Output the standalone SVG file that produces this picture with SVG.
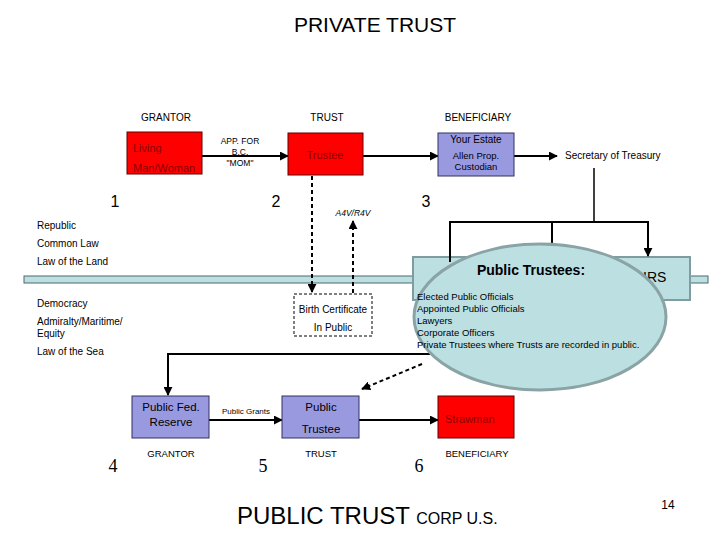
<svg xmlns="http://www.w3.org/2000/svg" width="720" height="540" viewBox="0 0 720 540">
<style>
text{font-family:"Liberation Sans",Arial,sans-serif;fill:#000}
.s9{font-size:9.5px}
.s10{font-size:10px}
.s11{font-size:11.5px}
.num{font-size:16px}
.numS{font-family:"Liberation Serif","Times New Roman",serif;font-size:18px}
.red{fill:#ff0000;stroke:#600000;stroke-width:1}
.blue{fill:#9999e0;stroke:#303060;stroke-width:1}
.rt{fill:#8b0000;font-size:11px}
.ln{stroke:#000;stroke-width:2;fill:none}
.thin{stroke:#000;stroke-width:1.5;fill:none}
.dash{stroke:#000;stroke-width:2;fill:none;stroke-dasharray:4,3}
.c{text-anchor:middle}
</style>
<defs>
<marker id="ah" viewBox="0 0 10 10" refX="9" refY="5" markerWidth="4.5" markerHeight="4.5" orient="auto" markerUnits="strokeWidth">
<path d="M0,0 L10,5 L0,10 z" fill="#000"/>
</marker>
</defs>
<rect width="720" height="540" fill="#fff"/>
<text x="375" y="32" class="c" style="font-size:21px">PRIVATE TRUST</text>
<text x="166" y="121" class="c s10">GRANTOR</text>
<text x="327" y="121" class="c s10">TRUST</text>
<text x="478" y="121" class="c s10">BENEFICIARY</text>
<text x="115" y="207" class="c num">1</text>
<text x="276" y="207" class="c num">2</text>
<text x="426" y="207" class="c num">3</text>
<g id="leftlabels" class="s10">
<text x="37" y="229">Republic</text>
<text x="37" y="247">Common Law</text>
<text x="37" y="265">Law of the Land</text>
<text x="37" y="307">Democracy</text>
<text x="37" y="325">Admiralty/Maritime/</text>
<text x="37" y="337">Equity</text>
<text x="37" y="355">Law of the Sea</text>
</g>
<g id="band"><rect x="24" y="276" width="684" height="7" fill="#bcdfe2" stroke="#506868" stroke-width="1"/></g>
<g id="irs">
<rect x="413" y="257" width="277" height="43" fill="#bcdfe2" stroke="#7f9c9e" stroke-width="2"/>
<text x="643" y="282" style="font-size:14px">IRS</text>
</g>
<g id="connectors">
<line x1="202" y1="156" x2="288" y2="156" class="ln" marker-end="url(#ah)"/>
<line x1="363" y1="156" x2="438" y2="156" class="ln" marker-end="url(#ah)"/>
<line x1="514" y1="156" x2="557" y2="156" class="ln" marker-end="url(#ah)"/>
<line x1="312" y1="176" x2="312" y2="292" class="dash" marker-end="url(#ah)"/>
<line x1="353" y1="293" x2="353" y2="221" class="dash" marker-end="url(#ah)"/>
<line x1="594" y1="168" x2="594" y2="222" class="thin"/>
<polyline points="450,262 450,222 648,222 648,256" class="ln" marker-end="url(#ah)"/>
<line x1="552" y1="222" x2="552" y2="250" class="ln"/>
<polyline points="430,354 168,354 168,395" class="ln" marker-end="url(#ah)"/>
<line x1="422" y1="364" x2="362" y2="389" class="dash" marker-end="url(#ah)"/>
<line x1="209" y1="420" x2="282" y2="420" class="ln" marker-end="url(#ah)"/>
<line x1="359" y1="420" x2="438" y2="420" class="ln" marker-end="url(#ah)"/>
</g>
<text x="240" y="144" class="c" style="font-size:8.5px">APP. FOR</text>
<text x="240" y="155" class="c" style="font-size:8.5px">B.C.</text>
<text x="240" y="166" class="c" style="font-size:8.5px">"MOM"</text>
<text x="353" y="216" class="c" style="font-size:8.5px;font-style:italic">A4V/R4V</text>
<text x="565" y="159" class="s10">Secretary of Treasury</text>
<text x="246" y="414" class="c" style="font-size:8px">Public Grants</text>
<g id="living">
<rect x="127" y="132" width="75" height="42" class="red"/>
<text x="133" y="152" class="rt">Living</text>
<text x="133" y="172" class="rt">Man/Woman</text>
</g>
<g id="trustee">
<rect x="288" y="133" width="75" height="42" class="red"/>
<text x="325" y="159" class="rt c">Trustee</text>
</g>
<g id="estate">
<rect x="438" y="133" width="76" height="43" class="blue"/>
<text x="476" y="143" class="c" style="font-size:10px">Your Estate</text>
<text x="476" y="159" class="c" style="font-size:9.5px">Allen Prop.</text>
<text x="476" y="170" class="c" style="font-size:9.5px">Custodian</text>
</g>
<g id="birthcert">
<rect x="294" y="294" width="78" height="42" fill="#fff" stroke="#000" stroke-width="1" stroke-dasharray="3,2"/>
<text x="333" y="313" class="c s10">Birth Certificate</text>
<text x="333" y="331" class="c s10">In Public</text>
</g>
<g id="publictrustees">
<ellipse cx="540" cy="317" rx="126" ry="73" fill="#bcdfe2" stroke="#8aa3a5" stroke-width="3"/>
<text x="531" y="275" class="c" style="font-size:14px;font-weight:bold">Public Trustees:</text>
<text x="417" y="300" class="s9">Elected Public Officials</text>
<text x="417" y="312" class="s9">Appointed Public Officials</text>
<text x="417" y="324" class="s9">Lawyers</text>
<text x="417" y="336" class="s9">Corporate Officers</text>
<text x="417" y="348" class="s9">Private Trustees where Trusts are recorded in public.</text>
</g>
<g id="fedreserve">
<rect x="132" y="396" width="77" height="42" class="blue"/>
<text x="171" y="411" class="c s11">Public Fed.</text>
<text x="171" y="426" class="c s11">Reserve</text>
</g>
<g id="publictrustee">
<rect x="282" y="396" width="77" height="42" class="blue"/>
<text x="321" y="411" class="c s11">Public</text>
<text x="321" y="433" class="c s11">Trustee</text>
</g>
<g id="strawman">
<rect x="438" y="396" width="76" height="42" class="red"/>
<text x="445" y="423" class="rt">Strawman</text>
</g>
<text x="171" y="457" class="c s9">GRANTOR</text>
<text x="321" y="457" class="c s9">TRUST</text>
<text x="477" y="457" class="c s9">BENEFICIARY</text>
<text x="113" y="472" class="c numS">4</text>
<text x="263" y="472" class="c numS">5</text>
<text x="419" y="472" class="c numS">6</text>
<text x="237" y="524"><tspan style="font-size:24px">PUBLIC TRUST </tspan><tspan style="font-size:16px">CORP U.S.</tspan></text>
<text x="668" y="509" class="c" style="font-size:12px">14</text>
</svg>
